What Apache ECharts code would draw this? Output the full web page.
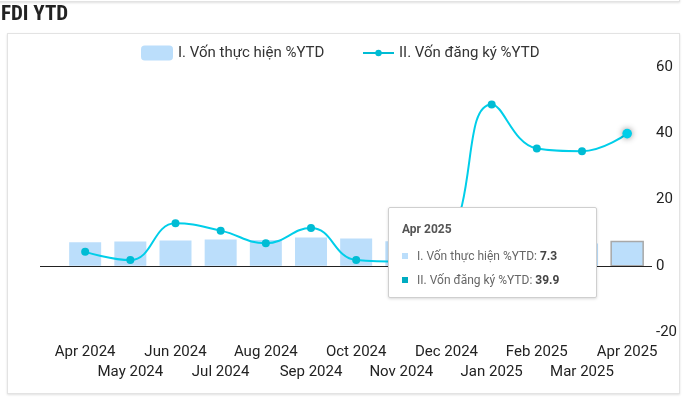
<!DOCTYPE html>
<html>
<head>
<meta charset="utf-8">
<script src="https://cdn.jsdelivr.net/npm/echarts@6/dist/echarts.min.js"></script>
<style>
  html, body { margin: 0; padding: 0; background: #fff; }
  #wrap { position: relative; width: 682px; height: 397px; overflow: hidden; }
  .card { position: absolute; background: #fff; border: 1px solid #e3e3e3; box-shadow: 0 1px 2px rgba(0,0,0,0.12); }
  #chart { position: absolute; left: 0; top: 0; width: 682px; height: 397px; }
</style>
</head>
<body>
<div id="wrap">
  <div class="card" style="left:-2px; top:-12px; width:680px; height:12px;"></div>
  <div class="card" style="left:7px; top:33px; width:671px; height:359px;"></div>
  <div id="chart"></div>
</div>
<script>
const categories = ['Apr 2024','May 2024','Jun 2024','Jul 2024','Aug 2024','Sep 2024','Oct 2024','Nov 2024','Dec 2024','Jan 2025','Feb 2025','Mar 2025','Apr 2025'];
const realizedYTD = [7.1, 7.3, 7.6, 7.9, 7.8, 8.5, 8.2, 7.4, 7.1, 6.5, 6.9, 6.7, 7.3];
const registeredYTD = [4.2, 1.7, 12.8, 10.6, 6.8, 11.4, 1.7, 1.2, 6.0, 48.7, 35.4, 34.6, 39.9];
const yTicks = [-20, 0, 20, 40, 60];
const seriesNames = ['I. Vốn thực hiện %YTD', 'II. Vốn đăng ký %YTD'];

const FONT = 'Roboto, "Noto Sans", sans-serif';
const BAR_COLOR = '#bbdefb';
const LINE_COLOR = '#00bcd4';

const chart = echarts.init(document.getElementById('chart'), null, { renderer: 'canvas' });

function tipHtml(i) {
  const sq = c => '<span style="display:inline-block;width:6px;height:6px;background:' + c + ';margin-right:9px;vertical-align:middle;position:relative;top:-1px;"></span>';
  return '<div style="font-family:Roboto,sans-serif;font-size:12px;color:#666;">' +
    '<div style="font-weight:bold;color:#555;line-height:18px;margin-bottom:9px;">' + categories[i] + '</div>' +
    '<div style="line-height:18px;margin-bottom:6px;">' + sq(BAR_COLOR) + seriesNames[0] + ': <b style="color:#444">' + realizedYTD[i] + '</b></div>' +
    '<div style="line-height:18px;">' + sq('#00acc1') + seriesNames[1] + ': <b style="color:#444">' + registeredYTD[i] + '</b></div>' +
    '</div>';
}

const legendText = { fontSize: 15, color: '#333', fontFamily: FONT, lineHeight: 18 };

chart.setOption({
  animation: false,
  textStyle: { fontFamily: FONT },
  title: {
    text: 'FDI YTD',
    left: 1, top: 4, padding: 0,
    textStyle: { fontFamily: '"Roboto Condensed", "Liberation Sans Narrow", "DejaVu Sans Condensed", Roboto, sans-serif', fontSize: 21, fontWeight: 'bold', color: '#222' }
  },
  legend: [
    {
      left: 141, top: 44, padding: 0,
      itemWidth: 32, itemHeight: 15, itemGap: 26,
      textStyle: legendText,
      data: [{ name: seriesNames[0] }]
    },
    {
      left: 362, top: 44, padding: 0,
      itemWidth: 31, itemHeight: 8,
      textStyle: legendText,
      data: [{ name: seriesNames[1] }]
    }
  ],
  grid: { left: 40, right: 30, top: 67, bottom: 65, containLabel: false },
  xAxis: {
    type: 'value',
    min: -1, max: 12.55, interval: 1,
    splitLine: { show: false },
    axisLine: { show: false, onZero: false },
    axisTick: { show: false },
    axisLabel: {
      show: true, margin: 10, fontSize: 15, lineHeight: 20, color: '#222', fontFamily: FONT,
      showMinLabel: true, showMaxLabel: true, hideOverlap: false,
      formatter: function (v) {
        if (Math.abs(v - Math.round(v)) > 1e-6) return '';
        const i = Math.round(v);
        if (i < 0 || i >= categories.length) return '';
        return (i % 2 === 1 ? '\n' : '') + categories[i];
      }
    }
  },
  yAxis: {
    type: 'value', position: 'right',
    min: yTicks[0], max: yTicks[yTicks.length - 1], interval: 20,
    splitLine: { show: false },
    axisLine: { show: false },
    axisTick: { show: false },
    axisLabel: { margin: 4, fontSize: 15, color: '#222', fontFamily: FONT }
  },
  tooltip: {
    trigger: 'item',
    triggerOn: 'none',
    alwaysShowContent: true,
    position: [388, 207],
    backgroundColor: '#fff',
    borderColor: '#cfcfcf',
    borderWidth: 1,
    padding: [12, 14, 8, 13],
    extraCssText: 'width:209px;height:91px;box-sizing:border-box;border-radius:2px;box-shadow:0 1px 3px rgba(0,0,0,0.15);',
    formatter: function (p) { return tipHtml(p.dataIndex); }
  },
  series: [
    {
      name: seriesNames[0],
      type: 'bar',
      barWidth: 32,
      itemStyle: { color: BAR_COLOR },
      emphasis: { focus: 'none', itemStyle: { color: BAR_COLOR, borderColor: '#a8a8a8', borderWidth: 1.5 } },
      data: realizedYTD.map((v, i) => [i, v]),
      markLine: {
        silent: true, symbol: 'none', label: { show: false },
        lineStyle: { color: '#222', width: 1, type: 'solid' },
        emphasis: { disabled: true },
        data: [{ yAxis: 0 }]
      },
      z: 2
    },
    {
      name: seriesNames[1],
      type: 'line',
      smooth: 0.45,
      symbol: 'circle',
      symbolSize: 8,
      lineStyle: { color: LINE_COLOR, width: 2 },
      itemStyle: { color: LINE_COLOR },
      emphasis: { focus: 'none', scale: 1.2, lineStyle: { width: 2 }, itemStyle: { shadowBlur: 6, shadowColor: 'rgba(0,0,0,0.45)' } },
      data: registeredYTD.map((v, i) => [i, v]),
      z: 3
    }
  ]
});

chart.dispatchAction({ type: 'highlight', seriesIndex: 0, dataIndex: 12 });
chart.dispatchAction({ type: 'highlight', seriesIndex: 1, dataIndex: 12 });
chart.dispatchAction({ type: 'showTip', seriesIndex: 1, dataIndex: 12 });
</script>
</body>
</html>
